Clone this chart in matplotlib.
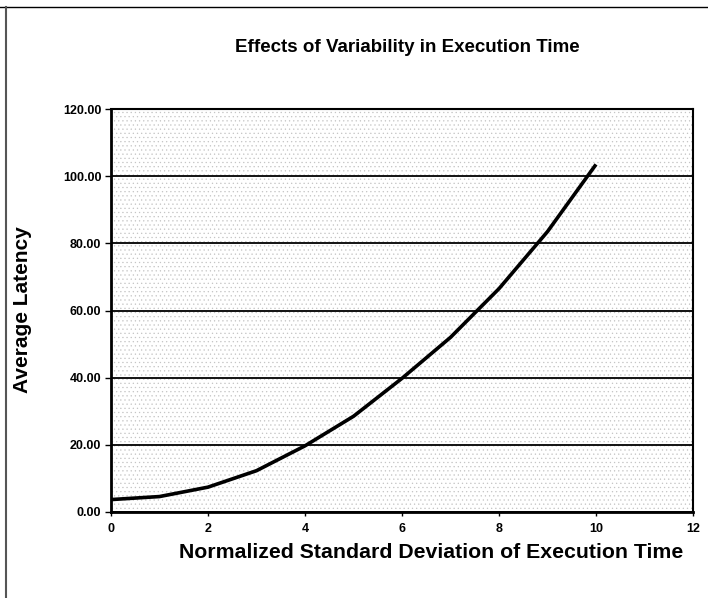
import matplotlib
matplotlib.use("Agg")
import matplotlib.pyplot as plt
from matplotlib.lines import Line2D

x_values = [0, 1, 2, 3, 4, 5, 6, 7, 8, 9, 10]
latency = [3.7, 4.6, 7.4, 12.3, 19.7, 28.5, 39.8, 52.0, 66.5, 83.5, 103.5]
x_ticks = [0, 2, 4, 6, 8, 10, 12]
y_ticks = [0, 20, 40, 60, 80, 100, 120]

plt.rcParams['font.family'] = ['Liberation Sans', 'DejaVu Sans']
plt.rcParams['hatch.color'] = '#c4c4c4'
plt.rcParams['hatch.linewidth'] = 0.4

fig = plt.figure(figsize=(7.08, 5.98), dpi=100)
W, H = 708, 598
left, right, top, bottom = 111, 693, 109, 512
ax = fig.add_axes([left / W, 1 - bottom / H, (right - left) / W, (bottom - top) / H])

ax.patch.set_facecolor('white')
ax.patch.set_hatch('....')
ax.patch.set_edgecolor('#c4c4c4')

ax.plot(x_values, latency, color='black', lw=2.6, solid_capstyle='butt', zorder=3)

ax.set_xlim(0, 12)
ax.set_ylim(0, 120)
ax.set_xticks(x_ticks)
ax.set_xticklabels([str(t) for t in x_ticks], fontsize=9, fontweight='bold')
ax.set_yticks(y_ticks)
ax.set_yticklabels([f"{t:.2f}" for t in y_ticks], fontsize=9, fontweight='bold')
ax.tick_params(axis='x', length=3, width=1, pad=5, direction='out')
ax.tick_params(axis='y', length=4, width=1, pad=3, direction='out')
ax.yaxis.grid(True, color='black', lw=1.3)
ax.set_axisbelow(False)
for s in ax.spines.values():
    s.set_color('black')
    s.set_linewidth(1.5)
ax.spines['left'].set_linewidth(2)
ax.spines['bottom'].set_linewidth(2)

fig.text(407 / W, 1 - 48 / H, 'Effects of Variability in Execution Time',
         ha='center', va='center', fontsize=13.5, fontweight='bold')
fig.text(431 / W, 1 - 552 / H, 'Normalized Standard Deviation of Execution Time',
         ha='center', va='center', fontsize=15.3, fontweight='bold')
fig.text(23 / W, 1 - 310 / H, 'Average Latency', rotation=90,
         ha='center', va='center', fontsize=15, fontweight='bold')

fig.lines.append(Line2D([0, 1], [1 - 7 / H, 1 - 7 / H], transform=fig.transFigure,
                        color='black', lw=1.0))
fig.lines.append(Line2D([6 / W, 6 / W], [0, 1 - 7 / H], transform=fig.transFigure,
                        color='#555555', lw=1.5))

fig.savefig('out.png', dpi=100)
